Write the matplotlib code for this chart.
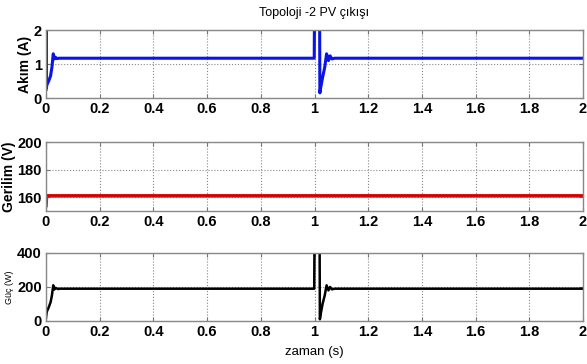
import numpy as np
import matplotlib
matplotlib.use("Agg")
import matplotlib.pyplot as plt

matplotlib.rcParams["font.family"] = ["Liberation Sans Narrow", "Liberation Sans", "DejaVu Sans"]

# akım (A)
t_i = [0, 0.0005, 0.001, 0.004, 0.010, 0.017, 0.022, 0.027, 0.031, 0.035, 0.040, 0.050,
       0.999, 1.000, 1.019, 1.020, 1.023, 1.030, 1.038, 1.045, 1.052, 1.058, 1.065, 1.075, 2.0]
akim = [0.25, 2.0, 0.3, 0.4, 0.5, 0.65, 0.9, 1.3, 1.15, 1.2, 1.16, 1.17,
        1.17, 2.6, 2.6, 0.15, 0.3, 0.6, 0.9, 1.3, 1.1, 1.24, 1.15, 1.17, 1.17]

# gerilim (V)
t_v = [0, 0.002, 0.004, 2.0]
gerilim = [154, 161, 161, 161]

# güç (W)
t_p = [0, 0.003, 0.010, 0.017, 0.022, 0.027, 0.031, 0.035, 0.045, 0.050,
       0.999, 1.000, 1.019, 1.020, 1.023, 1.030, 1.038, 1.045, 1.052, 1.058, 1.065, 1.075, 2.0]
guc = [20, 55, 80, 110, 150, 210, 185, 195, 188, 190,
       190, 480, 480, 10, 40, 100, 150, 210, 180, 200, 186, 190, 190]

xticks = [0, 0.2, 0.4, 0.6, 0.8, 1, 1.2, 1.4, 1.6, 1.8, 2]
xlabels = ["0", "0.2", "0.4", "0.6", "0.8", "1", "1.2", "1.4", "1.6", "1.8", "2"]

fig = plt.figure(figsize=(5.87, 3.64), dpi=100)
W, H = 587.0, 364.0
def box(top, bot):
    return [46 / W, 1 - bot / H, (583 - 46) / W, (bot - top) / H]

ax1 = fig.add_axes(box(30, 98))
ax2 = fig.add_axes(box(142, 211))
ax3 = fig.add_axes(box(253, 321))

ax1.plot(t_i, akim, color="#0a14e6", lw=2.2)
ax2.plot(t_v, gerilim, color="#e01010", lw=2.6)
ax2.plot(t_v, gerilim, color="#a00000", lw=0.6)
ax3.plot(t_p, guc, color="black", lw=1.8)

ax1.set_ylim(0, 2)
ax1.set_yticks([0, 1, 2])
ax2.set_ylim(150, 200)
ax2.set_yticks([160, 180, 200])
ax3.set_ylim(0, 400)
ax3.set_yticks([0, 200, 400])

for ax in (ax1, ax2, ax3):
    ax.set_xlim(0, 2)
    ax.set_xticks(xticks)
    ax.set_xticklabels(xlabels)
    ax.grid(True, linestyle=":", color="#888888", lw=0.8)
    ax.tick_params(direction="in", top=True, right=True, length=3, color="#777777",
                   labelsize=10.5, pad=3)
    for lab in ax.get_xticklabels() + ax.get_yticklabels():
        lab.set_fontweight("bold")
    for s in ax.spines.values():
        s.set_color("#888888")
        s.set_linewidth(1.0)

ax1.set_ylabel("Akım (A)", fontsize=10, fontweight="bold", labelpad=1)
ax2.set_ylabel("Gerilim (V)", fontsize=10, fontweight="bold", labelpad=1)
ax3.set_ylabel("Güç (W)", fontsize=6.5, labelpad=2)
ax1.set_title("Topoloji -2 PV çıkışı", fontsize=9, pad=10)
ax3.set_xlabel("zaman (s)", fontsize=9.5, labelpad=5)

plt.savefig("out.png", dpi=100)
